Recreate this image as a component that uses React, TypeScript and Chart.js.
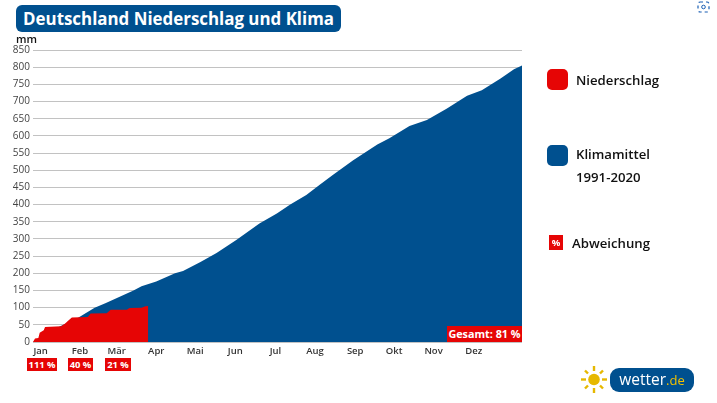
import { useEffect, useRef } from "react"
import { Chart, registerables } from "chart.js"

Chart.register(...registerables)

const monthLabels = ["Jan", "Feb", "Mär", "Apr", "Mai", "Jun", "Jul", "Aug", "Sep", "Okt", "Nov", "Dez"]
// the labels sit a few days after the start of each month
const monthLabelDays = [5.7, 35, 62.5, 92, 121, 151, 181, 210.5, 240.5, 269.5, 299, 329]

const climateDays = [0, 10, 20, 34, 46, 54, 75, 81, 92, 106, 112, 125, 137, 152, 169, 182, 192, 204, 214, 224, 239, 257, 266, 281, 294, 309, 324, 335, 349, 359, 365]
const climateValues = [0, 22, 45, 71, 100, 113, 150, 162, 176, 200, 207, 233, 259, 298, 345, 374, 400, 428, 458, 487, 529, 575, 593, 629, 646, 680, 717, 733, 767, 794, 805]

const rainDays = [0, 1.5, 4, 5, 8, 9, 21, 24, 26, 29, 41, 43, 55, 58, 70, 72, 81, 84, 86]
const rainValues = [0, 10, 12, 27, 34, 44, 46, 54, 61, 71, 73, 83, 84, 94, 94, 99, 100, 104, 105]

const BLUE = "#00508f"
const RED = "#e60505"
const FONT = "'Open Sans', sans-serif"

const box = (left: number, top: number, width: number, height: number): React.CSSProperties => ({
  position: "absolute",
  left,
  top,
  width,
  height,
})

function Badge({ left, top, width, height, size, text }: { left: number; top: number; width: number; height: number; size: number; text: string }) {
  return (
    <div
      style={{
        ...box(left, top, width, height),
        background: RED,
        color: "#fff",
        fontWeight: 700,
        fontSize: size,
        lineHeight: height + "px",
        textAlign: "center",
        whiteSpace: "nowrap",
      }}
    >
      {text}
    </div>
  )
}

function LegendText({ left, top, text }: { left: number; top: number; text: string }) {
  return (
    <div style={{ position: "absolute", left, top, fontSize: 13.2, fontWeight: 600, lineHeight: "18px", color: "#111", whiteSpace: "nowrap" }}>
      {text}
    </div>
  )
}

export default function App() {
  const chartRef = useRef<HTMLCanvasElement>(null)

  useEffect(() => {
    if (!chartRef.current) return
    const chart = new Chart(chartRef.current, {
      type: "line",
      data: {
        datasets: [
          {
            label: "Niederschlag",
            data: rainDays.map((d, i) => ({ x: d, y: rainValues[i] })),
            backgroundColor: RED,
            borderWidth: 0,
            pointRadius: 0,
            fill: "origin",
            order: 1,
          },
          {
            label: "Klimamittel 1991-2020",
            data: climateDays.map((d, i) => ({ x: d, y: climateValues[i] })),
            backgroundColor: BLUE,
            borderWidth: 0,
            pointRadius: 0,
            fill: "origin",
            order: 2,
          },
        ],
      },
      options: {
        responsive: false,
        animation: false,
        layout: { padding: { top: 50, right: 195, left: 0, bottom: 0 } },
        plugins: { legend: { display: false }, tooltip: { enabled: false } },
        scales: {
          x: {
            type: "linear",
            min: 0,
            max: 365,
            afterBuildTicks: (scale) => {
              scale.ticks = monthLabelDays.map((value) => ({ value }))
            },
            afterFit: (scale) => {
              scale.height = 61
            },
            grid: { display: false, drawTicks: false, tickLength: 0 },
            border: { display: false },
            ticks: {
              autoSkip: false,
              maxRotation: 0,
              padding: 4,
              color: "#333",
              font: { family: FONT, size: 9.5, weight: 600 },
              callback: (value) => monthLabels[monthLabelDays.indexOf(Number(value))],
            },
          },
          y: {
            min: 0,
            max: 850,
            afterFit: (scale) => {
              scale.width = 33
            },
            grid: { color: "#c2c2c2", lineWidth: 1, drawTicks: false },
            border: { display: false },
            ticks: {
              stepSize: 50,
              padding: 3,
              color: "#444",
              font: { family: FONT, size: 10 },
            },
          },
        },
      },
    })
    return () => chart.destroy()
  }, [])

  return (
    <div style={{ position: "absolute", left: 0, top: 0, width: 717, height: 403, background: "#fff", overflow: "hidden", fontFamily: FONT }}>
      <canvas ref={chartRef} width={717} height={403} style={{ position: "absolute", left: 0, top: 0 }} />

      <div
        style={{
          ...box(16, 5, 325, 27),
          background: BLUE,
          borderRadius: 6,
          color: "#fff",
          fontWeight: 700,
          fontSize: 16.9,
          lineHeight: "27px",
          textAlign: "center",
          whiteSpace: "nowrap",
        }}
      >
        Deutschland Niederschlag und Klima
      </div>
      <div style={{ position: "absolute", left: 16, top: 31, fontSize: 11, fontWeight: 600, lineHeight: "15px", color: "#111" }}>mm</div>

      <Badge left={27} top={358} width={30} height={13} size={9.4} text="111 %" />
      <Badge left={68} top={358} width={25} height={13} size={9.4} text="40 %" />
      <Badge left={105} top={358} width={26} height={13} size={9.4} text="21 %" />
      <Badge left={447} top={326} width={75} height={16} size={10.8} text="Gesamt: 81 %" />

      <div style={{ ...box(547, 69, 21, 21), background: RED, borderRadius: 5 }} />
      <LegendText left={576} top={71} text="Niederschlag" />
      <div style={{ ...box(547, 145, 21, 21), background: BLUE, borderRadius: 5 }} />
      <LegendText left={576} top={145} text="Klimamittel" />
      <LegendText left={576} top={168} text="1991-2020" />
      <Badge left={549} top={235} width={14} height={15} size={9.5} text="%" />
      <LegendText left={572} top={234} text="Abweichung" />

      <svg style={box(580, 365, 30, 29)} viewBox="0 0 30 29">
        <circle cx="14" cy="14.5" r="5.8" fill="#e6b800" />
        <g stroke="#e6b800" strokeWidth="2.4">
          <line x1="14" y1="1" x2="14" y2="6" />
          <line x1="14" y1="23" x2="14" y2="28" />
          <line x1="1" y1="14.5" x2="6" y2="14.5" />
          <line x1="22" y1="14.5" x2="27" y2="14.5" />
          <line x1="5" y1="5.5" x2="8" y2="8.5" />
          <line x1="20" y1="20.5" x2="23" y2="23.5" />
          <line x1="23" y1="5.5" x2="20" y2="8.5" />
          <line x1="8" y1="20.5" x2="5" y2="23.5" />
        </g>
      </svg>
      <div
        style={{
          ...box(610, 368, 84, 24),
          background: BLUE,
          borderRadius: 9,
          color: "#fff",
          fontSize: 15.5,
          lineHeight: "23px",
          textAlign: "center",
          whiteSpace: "nowrap",
        }}
      >
        wetter<span style={{ color: "#f2c200", fontSize: 13 }}>.de</span>
      </div>

      <svg style={box(693, 0, 24, 20)} viewBox="0 0 24 20">
        <circle cx="11" cy="7" r="13" fill="#fff" />
        <rect x="5" y="2" width="11" height="10" rx="2" fill="none" stroke="#1a5fb4" strokeWidth="1.2" strokeDasharray="3 3" />
        <circle cx="10.5" cy="7" r="1.8" fill="none" stroke="#1a5fb4" strokeWidth="1" />
      </svg>
    </div>
  )
}
